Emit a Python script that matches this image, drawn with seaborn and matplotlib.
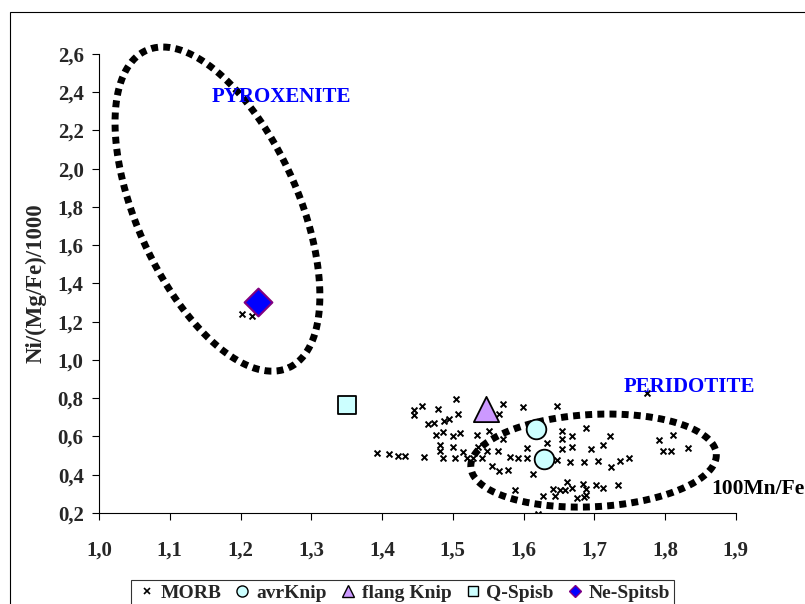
import numpy as np
import pandas as pd
import matplotlib.pyplot as plt
import seaborn as sns
from matplotlib.lines import Line2D
from matplotlib.patches import Rectangle

# MORB cloud
morb_x = [1.504, 1.445, 1.445, 1.456, 1.479, 1.465, 1.473, 1.487, 1.494, 1.508,
          1.571, 1.599, 1.647, 1.566, 1.476, 1.486, 1.501, 1.510, 1.534, 1.551,
          1.571, 1.482, 1.482, 1.500, 1.514, 1.535, 1.548, 1.564, 1.393, 1.410,
          1.422, 1.432, 1.460, 1.486, 1.503, 1.520, 1.528, 1.542, 1.581, 1.592,
          1.605, 1.556, 1.578, 1.566, 1.613, 1.633, 1.655, 1.669, 1.654, 1.688,
          1.605, 1.655, 1.669, 1.696, 1.712, 1.722, 1.648, 1.665, 1.686, 1.705,
          1.723, 1.736, 1.749, 1.662, 1.641, 1.651, 1.658, 1.669, 1.689, 1.684,
          1.703, 1.712, 1.733, 1.627, 1.644, 1.675, 1.688, 1.588, 1.621, 1.774,
          1.792, 1.811, 1.797, 1.808, 1.833, 1.686, 1.202, 1.216]
morb_y = [0.794, 0.736, 0.710, 0.757, 0.742, 0.663, 0.668, 0.679, 0.689, 0.715,
          0.768, 0.752, 0.757, 0.715, 0.610, 0.621, 0.605, 0.616, 0.610, 0.631,
          0.589, 0.553, 0.526, 0.547, 0.521, 0.547, 0.526, 0.526, 0.516, 0.506,
          0.500, 0.500, 0.495, 0.485, 0.485, 0.485, 0.485, 0.485, 0.495, 0.485,
          0.485, 0.448, 0.427, 0.422, 0.406, 0.568, 0.631, 0.600, 0.589, 0.642,
          0.542, 0.537, 0.547, 0.537, 0.558, 0.605, 0.479, 0.469, 0.469, 0.474,
          0.443, 0.474, 0.485, 0.364, 0.327, 0.322, 0.322, 0.332, 0.327, 0.353,
          0.348, 0.332, 0.348, 0.290, 0.290, 0.280, 0.296, 0.322, 0.196, 0.826,
          0.579, 0.610, 0.526, 0.526, 0.542, 0.285, 1.240, 1.230]

avrknip_x = [1.617, 1.629]
avrknip_y = [0.637, 0.484]
flang_x = [1.547]
flang_y = [0.744]
qspisb_x = [1.350]
qspisb_y = [0.765]
nespitsb_x = [1.225]
nespitsb_y = [1.302]

# field outlines: centre and two semi-axis vectors (data units)
pyrox_c = [1.1674, 1.789]
pyrox_a = [0.1008, -0.8294]
pyrox_b = [0.1039, 0.1743]
perid_c = [1.699, 0.474]
perid_a = [0.1735, 0.0336]
perid_b = [0.0034, -0.241]

xticks = [1.0, 1.1, 1.2, 1.3, 1.4, 1.5, 1.6, 1.7, 1.8, 1.9]
xticklabels = ["1,0", "1,1", "1,2", "1,3", "1,4", "1,5", "1,6", "1,7", "1,8", "1,9"]
yticks = [0.2, 0.4, 0.6, 0.8, 1.0, 1.2, 1.4, 1.6, 1.8, 2.0, 2.2, 2.4, 2.6]
yticklabels = ["0,2", "0,4", "0,6", "0,8", "1,0", "1,2", "1,4", "1,6", "1,8",
               "2,0", "2,2", "2,4", "2,6"]

sns.set_style("ticks")
plt.rcParams["font.family"] = ["Liberation Serif", "DejaVu Serif"]
plt.rcParams["font.weight"] = "bold"

fig = plt.figure(figsize=(8.05, 6.04), dpi=100)
ax = fig.add_axes([0.123, 0.1507, 0.791, 0.7599])

# chart-area frame
fig.patches.append(Rectangle((10 / 805, -0.05), 1.2, 1 - 12 / 604 + 0.05,
                             transform=fig.transFigure, fill=False,
                             edgecolor="black", lw=0.8, zorder=0))

t = np.linspace(0, 2 * np.pi, 300)
for c, a, b in [(pyrox_c, pyrox_a, pyrox_b), (perid_c, perid_a, perid_b)]:
    ex = c[0] + a[0] * np.cos(t) + b[0] * np.sin(t)
    ey = c[1] + a[1] * np.cos(t) + b[1] * np.sin(t)
    ax.plot(ex, ey, color="black", lw=5, dashes=(1.0, 0.75),
            dash_capstyle="butt", clip_on=False, zorder=2)

morb = pd.DataFrame({"x": morb_x, "y": morb_y})
sns.scatterplot(data=morb, x="x", y="y", marker="x", color="black", s=18,
                linewidth=1.4, ax=ax, zorder=3)
sns.scatterplot(x=avrknip_x, y=avrknip_y, marker="o", color="#CCFFFF", s=200,
                edgecolor="black", linewidth=1.3, ax=ax, zorder=4)
sns.scatterplot(x=flang_x, y=flang_y, marker="^", color="#CC99FF", s=330,
                edgecolor="black", linewidth=1.3, ax=ax, zorder=4)
sns.scatterplot(x=qspisb_x, y=qspisb_y, marker="s", color="#CCFFFF", s=170,
                edgecolor="black", linewidth=1.3, ax=ax, zorder=4)
sns.scatterplot(x=nespitsb_x, y=nespitsb_y, marker="D", color="#0000FF", s=200,
                edgecolor="#800080", linewidth=1.5, ax=ax, zorder=4)

ax.set_xlim(1.0, 1.9)
ax.set_ylim(0.2, 2.6)
ax.set_xticks(xticks)
ax.set_xticklabels(xticklabels, fontsize=15, fontweight="bold")
ax.set_yticks(yticks)
ax.set_yticklabels(yticklabels, fontsize=15, fontweight="bold")
ax.tick_params(length=5, width=0.8, color="black")
ax.tick_params(axis="x", pad=15)
ax.tick_params(axis="y", pad=6)
ax.set_xlabel("")
ax.set_ylabel("Ni/(Mg/Fe)/1000", fontsize=16.5, fontweight="bold")
ax.yaxis.set_label_coords(-0.083, 0.5)
sns.despine(ax=ax)
for s in ["left", "bottom"]:
    ax.spines[s].set_color("black")
    ax.spines[s].set_linewidth(0.8)

ax.text(1.257, 2.374, "PYROXENITE", color="#0000FF", fontsize=15,
        fontweight="bold", ha="center", va="center")
ax.text(1.835, 0.857, "PERIDOTITE", color="#0000FF", fontsize=15,
        fontweight="bold", ha="center", va="center")
ax.text(1.866, 0.327, "100Mn/Fe", color="black", fontsize=15.5,
        fontweight="bold", ha="left", va="center", clip_on=False)

handles = [
    Line2D([], [], ls="", marker="x", color="black", markersize=4, mew=1.2),
    Line2D([], [], ls="", marker="o", mfc="#CCFFFF", mec="black", markersize=8),
    Line2D([], [], ls="", marker="^", mfc="#CC99FF", mec="black", markersize=8),
    Line2D([], [], ls="", marker="s", mfc="#CCFFFF", mec="black", markersize=7),
    Line2D([], [], ls="", marker="D", mfc="#0000FF", mec="#800080", markersize=6),
]
labels = ["MORB", "avrKnip", "flang Knip", "Q-Spisb", "Ne-Spitsb"]
leg = fig.legend(handles, labels, loc="upper center",
                 bbox_to_anchor=(0.5, 1 - 580 / 604), ncol=5, frameon=True,
                 fancybox=False, edgecolor="black",
                 prop={"weight": "bold", "size": 14}, borderaxespad=0,
                 handletextpad=0.1, columnspacing=0.5, handlelength=1.2,
                 borderpad=0.2)
leg.get_frame().set_linewidth(0.8)

fig.savefig("out.png", dpi=100)
